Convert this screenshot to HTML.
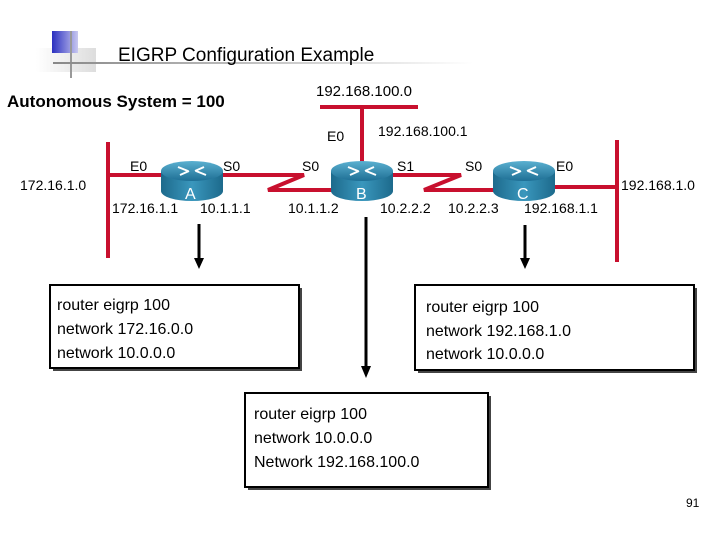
<!DOCTYPE html>
<html><head><meta charset="utf-8"><style>
body{margin:0;width:720px;height:540px;background:#fff;overflow:hidden}
svg{display:block}
text{font-family:"Liberation Sans",sans-serif;fill:#000}
</style></head><body>
<svg width="720" height="540" viewBox="0 0 720 540">
<defs>
<linearGradient id="tl" x1="0" x2="1"><stop offset="0" stop-color="#888"/><stop offset="1" stop-color="#fff"/></linearGradient>
<linearGradient id="bl" x1="0" x2="1"><stop offset="0" stop-color="#2b2fc0"/><stop offset="1" stop-color="#c8c8f0"/></linearGradient>
<linearGradient id="gr" x1="0" x2="1"><stop offset="0" stop-color="#fff"/><stop offset="1" stop-color="#ddd"/></linearGradient>
<linearGradient id="rt" x1="0" x2="0" y1="0" y2="1"><stop offset="0" stop-color="#5ab0d0"/><stop offset="1" stop-color="#1e6f95"/></linearGradient>
<linearGradient id="rs" x1="0" x2="1"><stop offset="0" stop-color="#1d6a8c"/><stop offset="0.5" stop-color="#3a97bd"/><stop offset="1" stop-color="#1d6a8c"/></linearGradient>
<g id="router">
<path d="M-31,-9 L-31,11 A31,10 0 0 0 31,11 L31,-9 Z" fill="url(#rs)"/>
<ellipse cx="0" cy="-9" rx="31" ry="10" fill="url(#rt)"/>
<g stroke="#fff" stroke-width="2" fill="none"><path d="M-14,-13 L-4,-9 M14,-5 L4,-9 M-12,-5 L-3,-9 M12,-13 L3,-9"/></g>
</g>
</defs>
<rect x="36" y="48" width="60" height="24" fill="url(#gr)"/>
<rect x="52" y="31" width="26" height="22" fill="url(#bl)"/>
<rect x="70" y="31" width="2" height="47" fill="#999"/>
<rect x="53" y="62" width="420" height="2" fill="url(#tl)"/>
<text x="118" y="61" font-size="19">EIGRP Configuration Example</text>
<text x="7" y="107" font-size="17" font-weight="bold">Autonomous System = 100</text>
<text x="316" y="96" font-size="15">192.168.100.0</text>
<text x="378" y="136" font-size="14">192.168.100.1</text>
<text x="327" y="141" font-size="14">E0</text>
<g stroke="#c8102e" stroke-width="4" fill="none">
<line x1="320" y1="107" x2="418" y2="107"/>
<line x1="362" y1="107" x2="362" y2="172"/>
<line x1="108" y1="142" x2="108" y2="258"/>
<line x1="617" y1="140" x2="617" y2="262"/>
<line x1="108" y1="175" x2="165" y2="175"/>
<polyline points="220,175 304,175 268,190 332,190"/>
<polyline points="392,175 461,175 424,190 494,190"/>
<line x1="553" y1="187" x2="617" y2="187"/>
</g>
<use href="#router" x="192" y="180"/>
<use href="#router" x="362" y="180"/>
<use href="#router" x="524" y="180"/>
<g font-size="16"><text x="185" y="199" fill="#fff" style="fill:#fff">A</text><text x="356" y="199" style="fill:#fff">B</text><text x="517" y="199" style="fill:#fff">C</text></g>
<g font-size="14">
<text x="130" y="171">E0</text><text x="223" y="171">S0</text>
<text x="302" y="171">S0</text><text x="397" y="171">S1</text>
<text x="465" y="171">S0</text><text x="556" y="171">E0</text>
<text x="20" y="190">172.16.1.0</text>
<text x="621" y="190">192.168.1.0</text>
<text x="112" y="213">172.16.1.1</text><text x="200" y="213">10.1.1.1</text>
<text x="288" y="213">10.1.1.2</text><text x="380" y="213">10.2.2.2</text>
<text x="448" y="213">10.2.2.3</text><text x="524" y="213">192.168.1.1</text>
</g>
<g stroke="#000" stroke-width="3">
<line x1="199" y1="224" x2="199" y2="260"/>
<line x1="366" y1="217" x2="366" y2="370"/>
<line x1="525" y1="225" x2="525" y2="260"/>
</g>
<g fill="#000">
<polygon points="194,258 204,258 199,269"/>
<polygon points="361,366 371,366 366,378"/>
<polygon points="520,258 530,258 525,269"/>
</g>
<g fill="#444"><rect x="53" y="288" width="249" height="83"/><rect x="418" y="288" width="279" height="85"/><rect x="248" y="396" width="243" height="94"/></g>
<g fill="#fff" stroke="#000" stroke-width="2">
<rect x="50" y="285" width="249" height="83"/>
<rect x="415" y="285" width="279" height="85"/>
<rect x="245" y="393" width="243" height="94"/>
</g>
<g font-size="16">
<text x="57" y="310">router eigrp 100</text><text x="57" y="334">network 172.16.0.0</text><text x="57" y="358">network 10.0.0.0</text>
<text x="426" y="312">router eigrp 100</text><text x="426" y="336">network 192.168.1.0</text><text x="426" y="359">network 10.0.0.0</text>
<text x="254" y="419">router eigrp 100</text><text x="254" y="443">network 10.0.0.0</text><text x="254" y="467">Network 192.168.100.0</text>
</g>
<text x="686" y="507" font-size="12">91</text>
</svg>
</body></html>
